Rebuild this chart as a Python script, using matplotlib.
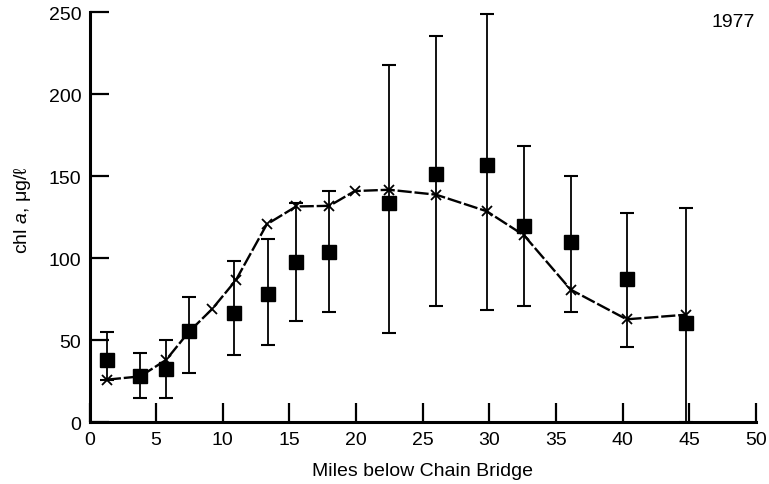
import matplotlib
matplotlib.use("Agg")
import matplotlib.pyplot as plt
import numpy as np

plt.rcParams['font.family'] = ['Liberation Sans', 'DejaVu Sans']
plt.rcParams['mathtext.fontset'] = 'custom'
plt.rcParams['mathtext.it'] = 'Liberation Sans:italic'
plt.rcParams['mathtext.rm'] = 'Liberation Sans'

# Curve (x markers)
curve_miles = [1.3, 3.8, 5.74, 7.44, 9.19, 10.97, 13.3, 15.5, 18.0, 19.9, 22.47,
               26.0, 29.8, 32.6, 36.1, 40.3, 44.75]
curve_chl = [26, 28, 38, 55, 69, 86.5, 120.7, 131.6, 132, 141, 141.8,
             138.8, 128.7, 114, 80.9, 62.8, 65.6]

# Observed means (squares) with ranges
obs_miles = [1.3, 3.8, 5.74, 7.44, 10.87, 13.4, 15.5, 18.0, 22.47, 26.0, 29.8,
             32.6, 36.1, 40.3, 44.75]
obs_mean = [38, 28, 32.4, 55.8, 66.9, 78.5, 98, 103.8, 134, 151.4, 156.9,
            119.6, 109.7, 87.5, 60.4]
obs_upper = [55.2, 42.5, 50, 76.7, 98.2, 111.8, 134, 141.1, 217.6, 235.6, 249,
             168.4, 150.4, 127.6, 130.4]
obs_lower = [26, 14.9, 14.9, 30, 41.1, 47, 62, 67.2, 54.4, 71, 68.4,
             70.8, 67.5, 46, 0]

x_ticks = [0, 5, 10, 15, 20, 25, 30, 35, 40, 45, 50]
y_ticks = [0, 50, 100, 150, 200, 250]

fig = plt.figure(figsize=(7.69, 4.85), dpi=100)
ax = fig.add_axes([0.1164, 0.1272, 0.8666, 0.8454])

mean = np.array(obs_mean)
yerr = np.vstack([mean - np.array(obs_lower), np.array(obs_upper) - mean])
ax.errorbar(obs_miles, obs_mean, yerr=yerr, fmt='s', color='black',
            markersize=9.5, ecolor='black', elinewidth=1.3, capsize=5,
            capthick=1.5, zorder=3)

ax.plot(curve_miles, curve_chl, color='black', lw=1.7, marker='x',
        markersize=7, markeredgewidth=1.3, dashes=(6, 1.2), zorder=4)

ax.set_xlim(0, 50)
ax.set_ylim(0, 250)
ax.set_xticks(x_ticks)
ax.set_yticks(y_ticks)
ax.spines['top'].set_visible(False)
ax.spines['right'].set_visible(False)
ax.spines['left'].set_linewidth(2.2)
ax.spines['bottom'].set_linewidth(2.2)
ax.tick_params(axis='both', direction='in', length=14, width=1.6,
               labelsize=14, colors='black')
ax.tick_params(axis='x', pad=6)
ax.tick_params(axis='y', pad=6)

ax.set_xlabel('Miles below Chain Bridge', fontsize=14, labelpad=10)
ax.set_ylabel(r'chl $a$, μg/ℓ', fontsize=14)
ax.yaxis.set_label_coords(-0.085, 0.52)
ax.text(0.998, 0.998, '1977', transform=ax.transAxes, ha='right', va='top',
        fontsize=14)

fig.savefig('out.png', dpi=100)
